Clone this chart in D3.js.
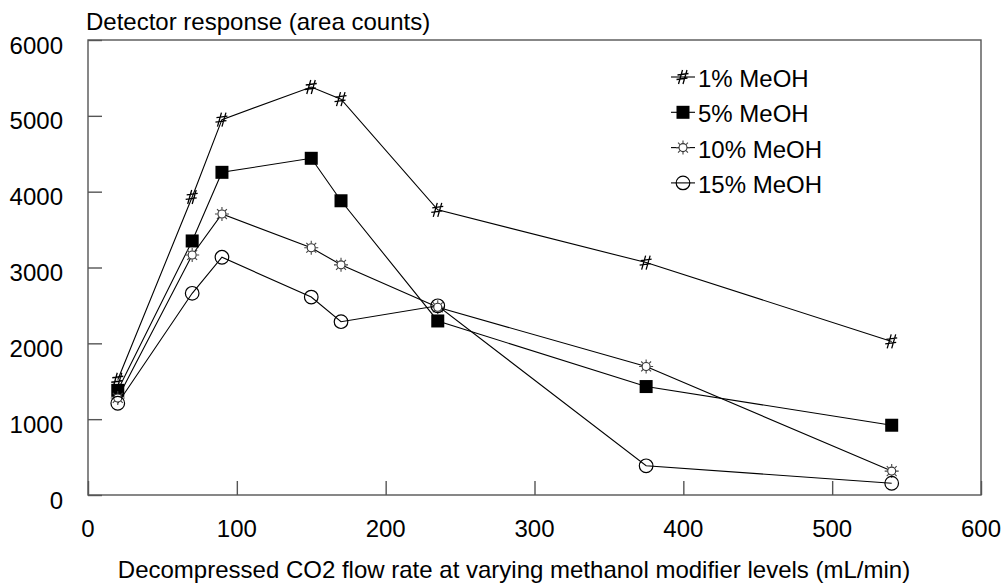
<!DOCTYPE html>
<html>
<head>
<meta charset="utf-8">
<script src="https://cdn.jsdelivr.net/npm/d3@7"></script>
<style>
  html, body { margin: 0; padding: 0; background: #fff; }
  svg text { font-family: "Liberation Sans", Arial, Helvetica, sans-serif; fill: #000; }
</style>
</head>
<body>
<svg id="chart" width="1005" height="583"></svg>
<script>
// ---- data ----
const flowRates = [20, 70, 90, 150, 170, 235, 375, 540];
const meoh1  = [1520, 3930, 4950, 5380, 5220, 3760, 3065, 2025];
const meoh5  = [1380, 3350, 4255, 4440, 3880, 2295, 1430, 920];
const meoh10 = [1280, 3165, 3705, 3260, 3035, 2475, 1695, 315];
const meoh15 = [1210, 2660, 3135, 2610, 2285, 2495, 385, 155];
const seriesNames = ["1% MeOH", "5% MeOH", "10% MeOH", "15% MeOH"];
const markerTypes = ["hash", "square", "sun", "circle"];
const xTicks = [0, 100, 200, 300, 400, 500, 600];
const yTicks = [0, 1000, 2000, 3000, 4000, 5000, 6000];
const yTitle = "Detector response (area counts)";
const xTitle = "Decompressed CO2 flow rate at varying methanol modifier levels (mL/min)";

const seriesValues = [meoh1, meoh5, meoh10, meoh15];

// ---- layout ----
const svg = d3.select("#chart");
const L = 88, R = 981, T = 40, B = 495;
const x = d3.scaleLinear().domain([0, 600]).range([L, R]);
const y = d3.scaleLinear().domain([0, 6000]).range([B, T]);
const FS = 24;
const axisColor = "#555";

// frame
svg.append("rect").attr("x", L).attr("y", T).attr("width", R - L).attr("height", B - T)
  .attr("fill", "none").attr("stroke", axisColor).attr("stroke-width", 1.4);

// y axis ticks (inward)
const yAxis = d3.axisRight(y).tickValues(yTicks).tickSize(14).tickFormat("");
svg.append("g").attr("transform", `translate(${L},0)`).call(yAxis)
  .call(g => g.select(".domain").remove())
  .call(g => g.selectAll("line").attr("stroke", axisColor).attr("stroke-width", 1.4));
// y labels
svg.append("g").selectAll("text").data(yTicks).join("text")
  .attr("x", 63).attr("y", d => y(d) + 13.5)
  .attr("text-anchor", "end").attr("font-size", FS).text(d => d);

// x axis ticks (inward)
const xAxis = d3.axisTop(x).tickValues(xTicks).tickSize(14).tickFormat("");
svg.append("g").attr("transform", `translate(0,${B})`).call(xAxis)
  .call(g => g.select(".domain").remove())
  .call(g => g.selectAll("line").attr("stroke", axisColor).attr("stroke-width", 1.4));
svg.append("g").selectAll("text").data(xTicks).join("text")
  .attr("x", d => x(d)).attr("y", 536.5)
  .attr("text-anchor", "middle").attr("font-size", FS).text(d => d);

// titles
svg.append("text").attr("x", 86).attr("y", 29.5).attr("font-size", FS).text(yTitle);
svg.append("text").attr("x", 514).attr("y", 578).attr("text-anchor", "middle")
  .attr("font-size", FS).text(xTitle);

// markers
function drawMarker(g, type) {
  if (type === "hash") {
    g.append("path")
      .attr("d", "M-0.5,-7 L-4.5,7 M4,-7 L0,7 M-5.5,-2 L5.5,-3.5 M-6.5,2.5 L4.5,1")
      .attr("stroke", "#000").attr("stroke-width", 1.3).attr("fill", "none");
  } else if (type === "square") {
    g.append("rect").attr("x", -6.5).attr("y", -6.5).attr("width", 13).attr("height", 13)
      .attr("fill", "#000");
  } else if (type === "sun") {
    g.append("circle").attr("r", 4).attr("fill", "#fff").attr("stroke", "#333").attr("stroke-width", 1.1);
    let d = "";
    for (let k = 0; k < 8; k++) {
      const a = k * Math.PI / 4;
      d += `M${(4.3 * Math.cos(a)).toFixed(2)},${(4.3 * Math.sin(a)).toFixed(2)} L${(7 * Math.cos(a)).toFixed(2)},${(7 * Math.sin(a)).toFixed(2)} `;
    }
    g.append("path").attr("d", d).attr("stroke", "#444").attr("stroke-width", 1.1);
  } else if (type === "circle") {
    g.append("circle").attr("r", 6.8).attr("fill", "none").attr("stroke", "#000").attr("stroke-width", 1.2);
  }
}

const line = d3.line().x(d => x(d[0])).y(d => y(d[1]));

seriesValues.forEach((vals, i) => {
  const pts = flowRates.map((f, j) => [f, vals[j]]);
  svg.append("path").datum(pts).attr("d", line)
    .attr("fill", "none").attr("stroke", "#000").attr("stroke-width", 1.1);
});
seriesValues.forEach((vals, i) => {
  const pts = flowRates.map((f, j) => [f, vals[j]]);
  svg.append("g").selectAll("g").data(pts).join("g")
    .attr("transform", d => `translate(${x(d[0])},${y(d[1])})`)
    .each(function () { drawMarker(d3.select(this), markerTypes[i]); });
});

// legend
const legend = svg.append("g");
seriesNames.forEach((name, i) => {
  const ry = 77 + i * 35.3;
  legend.append("line").attr("x1", 671).attr("x2", 695).attr("y1", ry).attr("y2", ry)
    .attr("stroke", "#000").attr("stroke-width", 1.1);
  drawMarker(legend.append("g").attr("transform", `translate(683,${ry})`), markerTypes[i]);
  legend.append("text").attr("x", 698).attr("y", ry + 10).attr("font-size", FS).text(name);
});
</script>
</body>
</html>
